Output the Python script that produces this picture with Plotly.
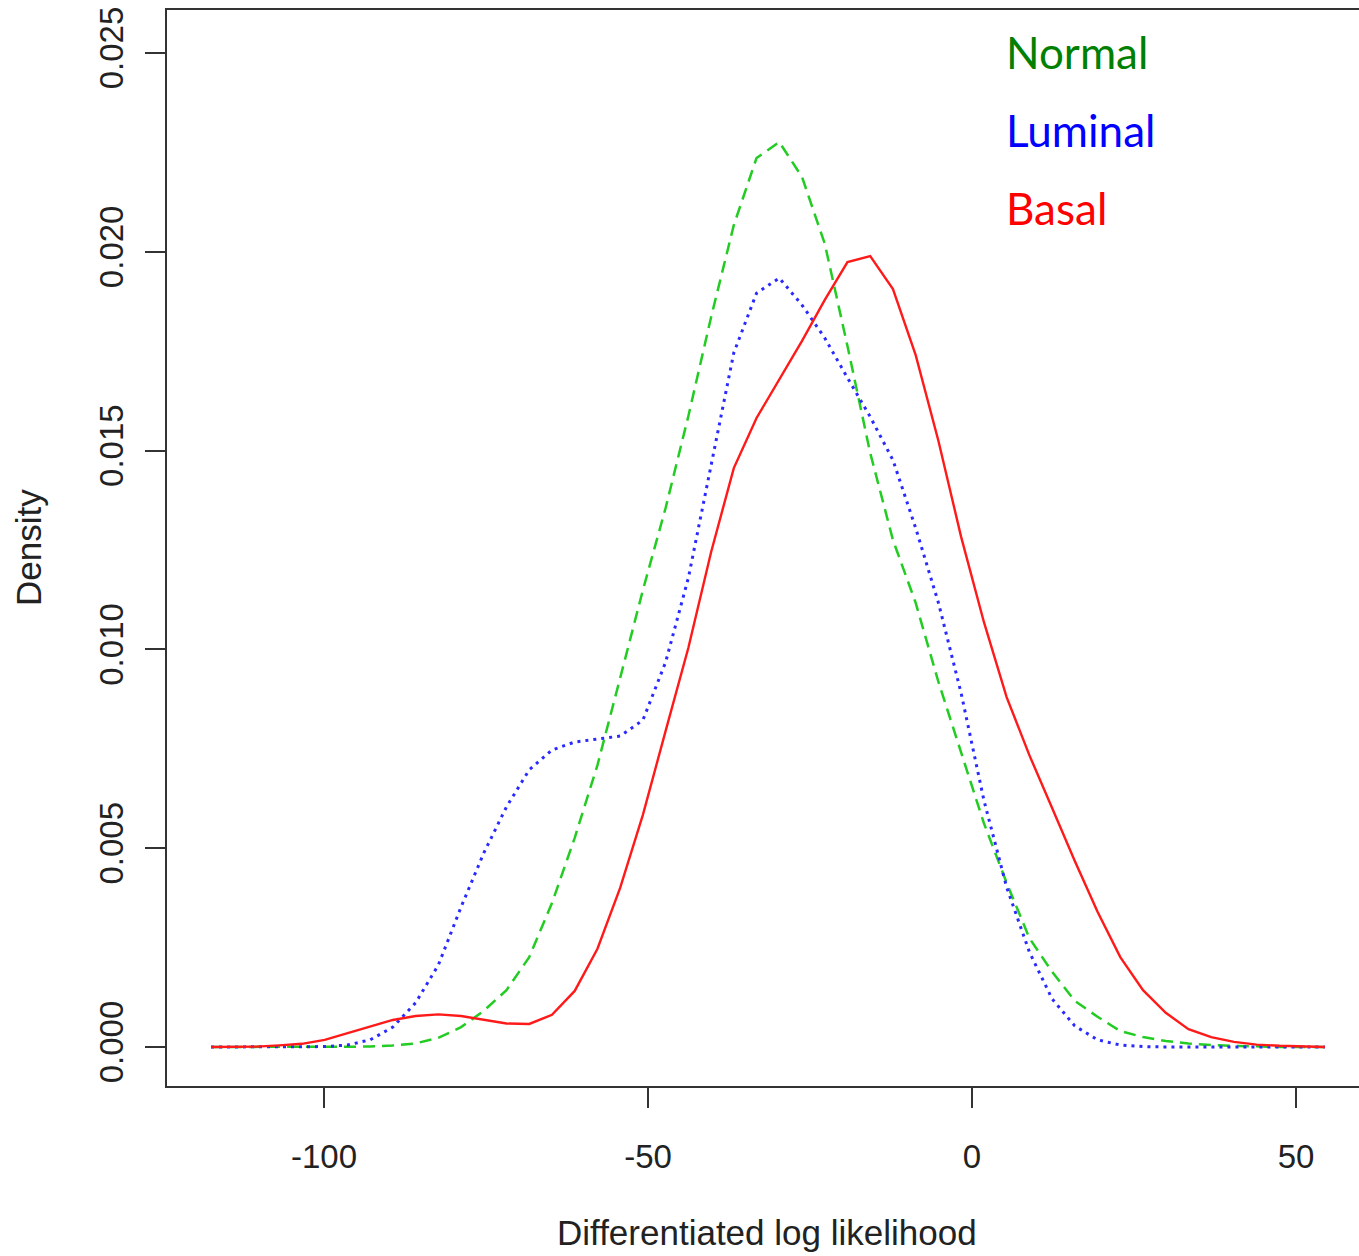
import plotly.graph_objects as go

# ---- data ----
x_grid = [-117.44, -113.93, -110.42, -106.92, -103.41, -99.90, -96.39, -92.88, -89.38, -85.87,
          -82.36, -78.85, -75.34, -71.84, -68.33, -64.82, -61.31, -57.80, -54.30, -50.79,
          -47.28, -43.77, -40.26, -36.76, -33.25, -29.74, -26.23, -22.72, -19.22, -15.71,
          -12.20, -8.69, -5.18, -1.68, 1.83, 5.34, 8.85, 12.36, 15.86, 19.37,
          22.88, 26.39, 29.90, 33.40, 36.91, 40.42, 43.93, 47.44, 50.94, 54.45]

basal = [0.00000, 0.00000, 0.00001, 0.00004, 0.00008, 0.00018, 0.00035, 0.00053, 0.00068, 0.00078,
         0.00082, 0.00078, 0.00068, 0.00059, 0.00058, 0.00081, 0.00141, 0.00247, 0.00400, 0.00584,
         0.00795, 0.01004, 0.01245, 0.01456, 0.01582, 0.01678, 0.01776, 0.01879, 0.01974, 0.01989,
         0.01906, 0.01740, 0.01524, 0.01283, 0.01069, 0.00880, 0.00734, 0.00601, 0.00468, 0.00340,
         0.00226, 0.00143, 0.00086, 0.00045, 0.00025, 0.00013, 0.00006, 0.00003, 0.00001, 0.00000]

normal = [0.00000, 0.00000, 0.00000, 0.00000, 0.00000, 0.00000, 0.00001, 0.00001, 0.00004, 0.00009,
          0.00023, 0.00050, 0.00091, 0.00143, 0.00226, 0.00362, 0.00526, 0.00709, 0.00928, 0.01149,
          0.01356, 0.01587, 0.01836, 0.02067, 0.02236, 0.02276, 0.02188, 0.02020, 0.01763, 0.01494,
          0.01275, 0.01117, 0.00918, 0.00739, 0.00563, 0.00413, 0.00274, 0.00189, 0.00116, 0.00076,
          0.00040, 0.00025, 0.00015, 0.00009, 0.00005, 0.00003, 0.00001, 0.00000, 0.00000, 0.00000]

luminal = [0.00000, 0.00000, 0.00000, 0.00000, 0.00000, 0.00001, 0.00005, 0.00018, 0.00050, 0.00111,
           0.00206, 0.00352, 0.00488, 0.00604, 0.00697, 0.00747, 0.00767, 0.00775, 0.00782, 0.00822,
           0.00968, 0.01180, 0.01464, 0.01746, 0.01896, 0.01934, 0.01866, 0.01783, 0.01683, 0.01585,
           0.01476, 0.01305, 0.01117, 0.00890, 0.00621, 0.00402, 0.00239, 0.00121, 0.00053, 0.00018,
           0.00005, 0.00001, 0.00000, 0.00000, 0.00000, 0.00000, 0.00000, 0.00000, 0.00000, 0.00000]

x_ticks = [-100, -50, 0, 50]
x_tick_labels = ["-100", "-50", "0", "50"]
y_ticks = [0.000, 0.005, 0.010, 0.015, 0.020, 0.025]
y_tick_labels = ["0.000", "0.005", "0.010", "0.015", "0.020", "0.025"]

# ---- layout geometry (pixels) ----
W, H = 1359, 1256
L, T, B = 167, 10, 1086

def xp(px):
    return (px - L) / (W - L)

def yp(py):
    return (B - py) / (B - T)

fig = go.Figure()
fig.add_trace(go.Scatter(x=x_grid, y=normal, mode="lines", name="Normal",
                         line=dict(color="#22cc22", width=2.5, dash="12px,7px")))
fig.add_trace(go.Scatter(x=x_grid, y=luminal, mode="lines", name="Luminal",
                         line=dict(color="#2a2aff", width=3, dash="3px,5px")))
fig.add_trace(go.Scatter(x=x_grid, y=basal, mode="lines", name="Basal",
                         line=dict(color="#ff1a1a", width=2.4)))

axis_font = dict(family="Liberation Sans, Arial, sans-serif", size=33, color="#222")

fig.update_layout(
    width=W, height=H,
    margin=dict(l=L, r=0, t=T, b=H - B, pad=0),
    paper_bgcolor="white", plot_bgcolor="white",
    showlegend=False,
    xaxis=dict(range=[-124.23, 59.72], tickvals=x_ticks, ticktext=x_tick_labels,
               ticks="outside", ticklen=20, tickwidth=2, tickcolor="#333",
               showline=True, linecolor="#333", linewidth=2, mirror=True,
               showgrid=False, zeroline=False, tickfont=axis_font,
               ticklabelstandoff=20),
    yaxis=dict(range=[-0.000981, 0.026081], tickvals=y_ticks, ticktext=y_tick_labels,
               ticks="outside", ticklen=20, tickwidth=2, tickcolor="#333",
               showline=True, linecolor="#333", linewidth=2, mirror=False,
               showgrid=False, zeroline=False, tickfont=axis_font, tickangle=-90,
               ticklabelstandoff=9),
)

title_font = dict(family="Liberation Sans, Arial, sans-serif", size=35, color="#222")
fig.add_annotation(text="Density", xref="paper", yref="paper", x=xp(28), y=yp(548),
                   xanchor="center", yanchor="middle", textangle=-90, showarrow=False,
                   font=title_font)
fig.add_annotation(text="Differentiated log likelihood", xref="paper", yref="paper",
                   x=xp(767), y=yp(1232), xanchor="center", yanchor="middle",
                   showarrow=False, font=title_font)

legend_items = [("Normal", "#008000", 52), ("Luminal", "#0000ff", 130), ("Basal", "#ff0000", 208)]
for label, color, cy in legend_items:
    fig.add_annotation(text=label, xref="paper", yref="paper", x=xp(1004), y=yp(cy),
                       xanchor="left", yanchor="middle", showarrow=False,
                       font=dict(family="Lato, Open Sans, sans-serif", size=44, color=color))

fig.write_html("out.html", config={"displayModeBar": False},
               post_script="document.body.style.margin='0px';document.body.style.overflow='hidden';")
